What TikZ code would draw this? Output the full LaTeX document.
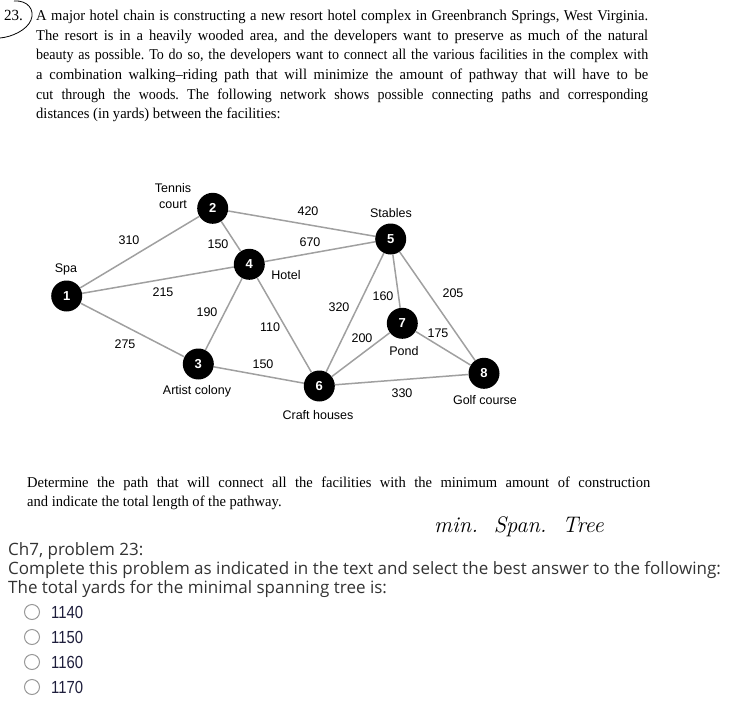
\documentclass[tikz,border=0pt]{standalone}
\usepackage{fontspec}
\newfontfamily\bookfont[FakeStretch=0.97]{Liberation Serif}
\newfontfamily\tightfont[FakeStretch=0.935]{Liberation Serif}
\newfontfamily\mapfont{Liberation Sans}
\newfontfamily\webfont{Open Sans}
\newfontfamily\numfont[FakeStretch=0.85]{Liberation Sans}
\usetikzlibrary{positioning}
\definecolor{trail}{RGB}{160,160,160}
\definecolor{webtext}{RGB}{51,51,51}
\definecolor{choicetext}{RGB}{30,30,60}
\frenchspacing

\begin{document}
\begin{tikzpicture}[x=1pt,y=-1pt,
  site/.style={circle,fill=black,minimum size=31pt,inner sep=0pt,text=white,font=\mapfont\bfseries\fontsize{13}{13}\selectfont},
  trailline/.style={draw=trail,line width=1.5pt},
  dist/.style={font=\mapfont\fontsize{12.5}{13}\selectfont,inner sep=0pt},
  place/.style={font=\mapfont\fontsize{12.5}{16}\selectfont,inner sep=0pt,align=center},
  radio/.style={circle,draw=gray!80,line width=1pt,minimum size=15pt,inner sep=0pt},
  choice/.style={font=\numfont\fontsize{17.5}{17.5}\selectfont,text=choicetext,inner sep=0pt}]
\useasboundingbox (0,0) rectangle (731,709);

% problem statement
\node[font=\bookfont\fontsize{15.5}{15.5}\selectfont,anchor=base west,inner sep=0pt] (num) at (4,21) {23.};
\draw[line width=.8pt] (14,1) .. controls (28,0) and (35,10) .. (31,20) .. controls (27,30) and (12,37) .. (0,38);
\node[font=\bookfont\fontsize{15}{19.6}\selectfont,text width=612pt,align=justify,anchor=north west,inner sep=0pt] (intro) at (36,10)
  {A major hotel chain is constructing a new resort hotel complex in Greenbranch Springs, West Virginia.\linebreak
   The resort is in a heavily wooded area, and the developers want to preserve as much of the natural\linebreak
   {\tightfont beauty as possible. To do so, the developers want to connect all the various facilities in the complex with}\linebreak
   a combination walking–riding path that will minimize the amount of pathway that will have to be\linebreak
   {\tightfont cut through the woods. The following network shows possible connecting paths and corresponding}\linebreak
   distances (in yards) between the facilities:};

% facilities
\node[site] (spa) at (66.7,296) {1};
\node[site] (tennis) at (212.7,208.3) {2};
\node[site] (artist) at (198.3,364) {3};
\node[site] (hotel) at (249.3,264.3) {4};
\node[site] (stables) at (390.7,239) {5};
\node[site] (craft) at (319.3,386) {6};
\node[site] (pond) at (402.3,323.3) {7};
\node[site] (golf) at (484,373.3) {8};

\foreach \a/\b in {spa/tennis,spa/hotel,spa/artist,tennis/hotel,tennis/stables,hotel/stables,
  hotel/artist,hotel/craft,artist/craft,stables/craft,stables/pond,stables/golf,pond/craft,pond/golf,craft/golf}
  \draw[trailline] (\a) -- (\b);

\node[place] (lspa) at (66,269) {Spa};
\node[place] (ltennis) at (173,196) {Tennis\\court};
\node[place] (lhotel) at (286,275) {Hotel};
\node[place] (lartist) at (197,391) {Artist colony};
\node[place] (lstables) at (391,213) {Stables};
\node[place] (lpond) at (404,351) {Pond};
\node[place] (lgolf) at (485,400) {Golf course};
\node[place] (lcraft) at (318,415) {Craft houses};

% distances in yards
\foreach \nm/\x/\y/\t in {d12/129/240/310,d24/218/244/150,d25/308/211/420,d45/310/242/670,
  d14/163/292/215,d34/207/312/190,d46/270/327/110,d13/125/344/275,d36/263/364/150,
  d56/339/307/320,d57/383/296/160,d58/453/293/205,d67/362/338/200,d78/438/333/175,d68/402/393/330}
  \node[dist] (\nm) at (\x,\y) {\t};

% question
\node[font=\bookfont\fontsize{15}{19}\selectfont,text width=623pt,align=justify,anchor=north west,inner sep=0pt] (task) at (27,477)
  {Determine the path that will connect all the facilities with the minimum amount of construction\linebreak
   and indicate the total length of the pathway.};
\node[font=\itshape\fontsize{22.5}{22.5}\selectfont] (note) at (519,527) {min.\ \ Span.\ \ Tree};

\node[font=\webfont\fontsize{17}{19}\selectfont,text=webtext,align=left,anchor=north west,inner sep=0pt] (quiz) at (8,542)
  {Ch7, problem 23:\\
   Complete this problem as indicated in the text and select the best answer to the following:\\
   The total yards for the minimal spanning tree is:};

\foreach \v [count=\i] in {1140,1150,1160,1170} {
  \node[radio] (r\i) at (32,587+25*\i) {};
  \node[choice,right=11pt of r\i] (c\i) {\v};
}
\end{tikzpicture}
\end{document}
